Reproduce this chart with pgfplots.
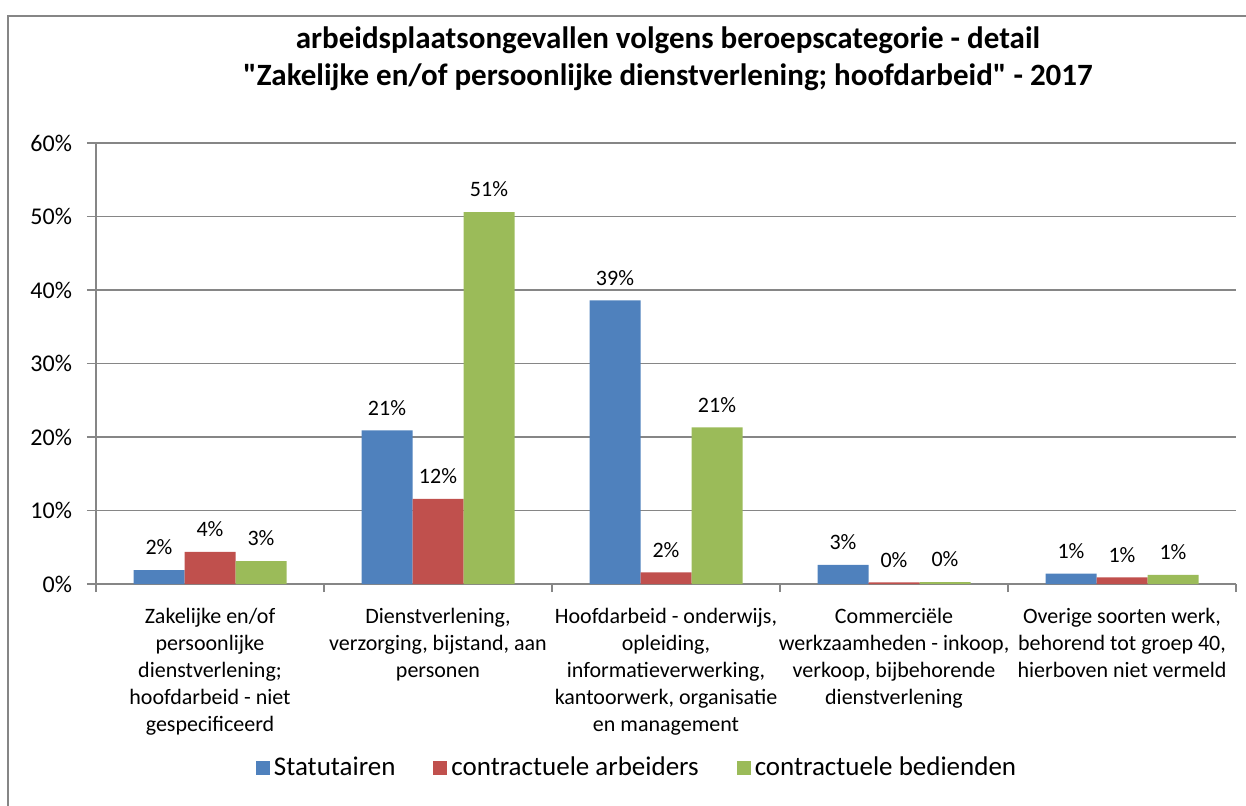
\documentclass[border=0pt]{standalone}
\usepackage{pgfplots}
\pgfplotsset{compat=1.18}
\usepackage{fontspec}
\setmainfont{Carlito}[Ligatures=TeXOff]
\definecolor{cBlue}{HTML}{4F81BD}
\definecolor{cRed}{HTML}{C0504D}
\definecolor{cGreen}{HTML}{9BBB59}
\definecolor{cGrid}{HTML}{868686}
\begin{document}
\begin{tikzpicture}
\useasboundingbox (0pt,0pt) rectangle (623pt,402.5pt);
\draw[cGrid, line width=1pt] (4pt,-5pt) -- (4pt,394.5pt) -- (630pt,394.5pt);
\node[font=\bfseries\fontsize{15.5}{18}\selectfont] at (334pt,382.5pt) {arbeidsplaatsongevallen volgens beroepscategorie - detail};
\node[font=\bfseries\fontsize{15.5}{18}\selectfont] at (334pt,364pt) {"Zakelijke en/of persoonlijke dienstverlening; hoofdarbeid" - 2017};
\begin{axis}[
  at={(48pt,110.5pt)}, anchor=south west, scale only axis,
  width=570pt, height=220.5pt,
  ybar=0pt, bar width=25.5pt,
  xmin=-0.5, xmax=4.5, ymin=0, ymax=60,
  /pgf/number format/assume math mode=true,
  ytick={0,10,...,60},
  yticklabel={\pgfmathprintnumber{\tick}\%},
  yticklabel style={font=\fontsize{12}{14}\selectfont, xshift=-4pt},
  xtick={0,1,2,3,4},
  xticklabels={
    {Zakelijke en/of\\persoonlijke\\dienstverlening;\\hoofdarbeid - niet\\gespecificeerd},
    {Dienstverlening,\\verzorging, bijstand, aan\\personen},
    {Hoofdarbeid - onderwijs,\\opleiding,\\informatieverwerking,\\kantoorwerk, organisatie\\en management},
    {Commerciële\\werkzaamheden - inkoop,\\verkoop, bijbehorende\\dienstverlening},
    {Overige soorten werk,\\behorend tot groep 40,\\hierboven niet vermeld}},
  xticklabel style={align=center, font=\fontsize{11}{13.5}\selectfont, anchor=north, yshift=-4pt},
  major x tick style={draw=none},
  extra x ticks={-0.5,0.5,1.5,2.5,3.5,4.5},
  extra x tick labels={},
  extra x tick style={major x tick style={draw=cGrid, line width=0.8pt}, major tick length=4pt, tick align=outside, grid=none},
  tick align=outside, major tick length=4.5pt,
  y tick style={draw=cGrid, line width=0.8pt},
  axis x line*=bottom, axis y line*=left,
  axis line style={draw=cGrid, line width=0.8pt},
  ymajorgrids, grid style={draw=cGrid, line width=0.8pt},
  nodes near coords={\pgfmathprintnumber[fixed,precision=0]{\pgfplotspointmeta}\%},
  nodes near coords style={font=\fontsize{11}{13}\selectfont, yshift=4pt, black},
  legend style={at={(0.4755,-0.417)}, anchor=center, draw=none, legend columns=-1,
    font=\fontsize{13.5}{16}\selectfont,
    /tikz/every even column/.append style={column sep=17pt}},
  legend image code/.code={\fill[#1] (-2pt,-3.5pt) rectangle (5pt,3.5pt);},
]
\addplot[fill=cBlue, draw=none] coordinates {(0,1.9) (1,20.9) (2,38.6) (3,2.6) (4,1.4)};
\addplot[fill=cRed, draw=none] coordinates {(0,4.36) (1,11.6) (2,1.6) (3,0.23) (4,0.9)};
\addplot[fill=cGreen, draw=none] coordinates {(0,3.1) (1,50.6) (2,21.3) (3,0.25) (4,1.23)};
\legend{Statutairen, contractuele arbeiders, contractuele bedienden}
\end{axis}
\end{tikzpicture}
\end{document}
